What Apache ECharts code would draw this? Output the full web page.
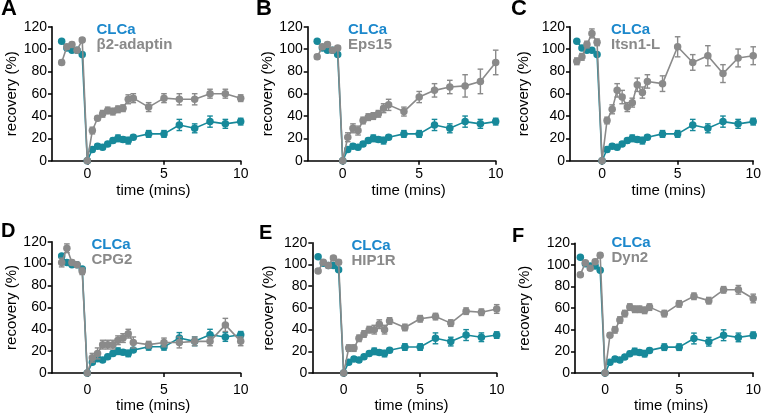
<!DOCTYPE html>
<html><head><meta charset="utf-8">
<script src="https://cdn.jsdelivr.net/npm/echarts@6/dist/echarts.min.js"></script>
<style>html,body{margin:0;padding:0;background:#fff}#c{width:764px;height:414px}</style>
</head><body><div id="c"></div>
<script>
// ---- data ----
const time = [-1.67,-1.33,-1,-0.67,-0.33,0,0.33,0.67,1,1.33,1.67,2,2.33,2.67,3,4,5,6,7,8,9,10];
const xTicks = [0,5,10];
const refName = 'CLCa';
const clca    = [107,101,99,99,95,0,10,13,12,15,18,20,19,18,21,24,24,32,29,35,33,35];
const clcaErr = [1,1,1,1,1,0,2,2,2,2,2,3,2,3,2,3,3,5,4,5,4,3];
const panelLetters = ['A','B','C','D','E','F'];
const proteinNames = ['β2-adaptin','Eps15','Itsn1-L','CPG2','HIP1R','Dyn2'];
const b2      = [88,102,104,99,108,0,27,38,42,45,44,46,47,55,56,48,56,55,55,60,60,56];
const b2Err   = [2,2,2,2,2,0,3,2,3,3,3,3,3,4,4,4,4,5,5,4,4,3];
const eps15   = [93,102,104,99,101,0,21,29,27,36,39,40,42,47,50,44,57,63,66,67,71,88];
const eps15Err= [2,2,2,2,2,0,4,4,4,3,3,3,3,4,5,4,5,6,6,10,11,11];
const itsn    = [89,93,104,114,106,0,36,46,63,57,48,52,68,61,71,69,102,88,94,78,92,94];
const itsnErr = [3,3,3,4,3,0,3,4,6,6,4,4,6,5,6,7,9,7,9,8,8,8];
const cpg2    = [101,114,101,99,93,0,14,18,26,26,26,30,32,36,28,26,28,28,29,29,44,29];
const cpg2Err = [4,4,2,2,3,0,4,5,4,4,4,4,4,4,5,3,4,5,4,4,6,4];
const hip1r   = [94,102,99,106,102,0,23,23,32,36,40,40,45,40,48,42,50,52,46,57,56,59];
const hip1rErr= [2,2,2,2,2,0,3,3,3,3,3,4,4,4,3,3,3,3,3,3,3,4];
const dyn2    = [91,102,97,103,109,0,35,40,49,55,61,59,59,58,61,55,64,71,67,77,77,69];
const dyn2Err = [2,2,2,2,2,0,2,3,3,3,3,3,3,3,3,3,3,3,3,3,4,4];
const proteinValues = [b2,eps15,itsn,cpg2,hip1r,dyn2];
const proteinErrors = [b2Err,eps15Err,itsnErr,cpg2Err,hip1rErr,dyn2Err];

// ---- layout ----
const layout = [
  {left:52,   top:26.7,  width:188.7, height:134,   xmin:-2.3,  lm:6,  ng:22.5, yng:32,   lg:[96.5,23],  lt:[1,-3,22]},
  {left:307.7,top:26.7,  width:188,   height:134,   xmin:-2.29, lm:6,  ng:22.5, yng:31.5, lg:[348,23],   lt:[256,-3,22]},
  {left:570,  top:26.7,  width:186.7, height:134,   xmin:-2.12, lm:6,  ng:22.5, yng:38.5, lg:[611,23],   lt:[511,-3,22]},
  {left:51.7, top:241.7, width:189,   height:133.3, xmin:-2.32, lm:10, ng:20.5, yng:32.5, lg:[91.5,238], lt:[1,220,20]},
  {left:312.3,top:242.7, width:184.4, height:132.3, xmin:-2.05, lm:10, ng:20.5, yng:35.5, lg:[351.5,239],lt:[259,222,20]},
  {left:575,  top:243.3, width:182.3, height:133.4, xmin:-2.03, lm:10, ng:20.5, yng:43,   lg:[611.5,236],lt:[512,225,20]}
];
const FONT = '"Liberation Sans", Arial, Helvetica, sans-serif';
const TEAL = '#17899a', GRAY = '#8a8a8a', LABELBLUE = '#1c88cc';

function errData(vals, errs){ return time.map((t,i)=>[t, vals[i], errs[i]]); }
function lineData(vals){ return time.map((t,i)=>[t, vals[i]]); }
function errRender(color){
  return function(params, api){
    const x = api.value(0), y = api.value(1), e = api.value(2);
    if (!e) return null;
    const p1 = api.coord([x, y+e]), p2 = api.coord([x, y-e]);
    const hw = 2.8, st = {stroke: color, lineWidth: 1.4};
    return {type:'group', children:[
      {type:'line', shape:{x1:p1[0],y1:p1[1],x2:p2[0],y2:p2[1]}, style:st},
      {type:'line', shape:{x1:p1[0]-hw,y1:p1[1],x2:p1[0]+hw,y2:p1[1]}, style:st},
      {type:'line', shape:{x1:p2[0]-hw,y1:p2[1],x2:p2[0]+hw,y2:p2[1]}, style:st}
    ]};
  };
}

const grid=[], xAxis=[], yAxis=[], series=[], title=[];
layout.forEach((L,i)=>{
  grid.push({left:L.left, top:L.top, width:L.width, height:L.height, containLabel:false});
  xAxis.push({type:'value', gridIndex:i, min:L.xmin, max:10,
    name:'time (mins)', nameLocation:'middle', nameGap:L.ng,
    nameTextStyle:{fontFamily:FONT, fontSize:15, color:'#000', padding:[0,0,0,14]},
    axisLine:{show:true, onZero:false, lineStyle:{color:'#000', width:1.5}},
    axisTick:{show:true, length:4, customValues:xTicks, lineStyle:{color:'#000', width:1.5}},
    axisLabel:{customValues:xTicks, margin:L.lm, fontFamily:FONT, fontSize:14, color:'#000'},
    splitLine:{show:false}});
  yAxis.push({type:'value', gridIndex:i, min:0, max:120, interval:20, position:'left',
    name:'recovery (%)', nameLocation:'middle', nameGap:L.yng, nameRotate:90,
    nameTextStyle:{fontFamily:FONT, fontSize:15, color:'#000'},
    axisLine:{show:true, onZero:false, lineStyle:{color:'#000', width:1.6}},
    axisTick:{show:true, length:4, lineStyle:{color:'#000', width:1.5}},
    axisLabel:{margin:5, fontFamily:FONT, fontSize:14, color:'#000'},
    splitLine:{show:false}});
  series.push({type:'custom', xAxisIndex:i, yAxisIndex:i, renderItem:errRender(TEAL), data:errData(clca, clcaErr), z:1, silent:true});
  series.push({type:'line', name:refName, xAxisIndex:i, yAxisIndex:i, data:lineData(clca), symbol:'circle', symbolSize:7.5,
    lineStyle:{color:TEAL, width:1.6}, itemStyle:{color:TEAL}, z:2, animation:false});
  series.push({type:'custom', xAxisIndex:i, yAxisIndex:i, renderItem:errRender(GRAY), data:errData(proteinValues[i], proteinErrors[i]), z:3, silent:true});
  series.push({type:'line', name:proteinNames[i], xAxisIndex:i, yAxisIndex:i, data:lineData(proteinValues[i]), symbol:'circle', symbolSize:7.5,
    lineStyle:{color:GRAY, width:1.6}, itemStyle:{color:GRAY}, z:4, animation:false});
  title.push({text:refName, subtext:proteinNames[i], left:L.lg[0], top:L.lg[1], padding:0, itemGap:0,
    textStyle:{fontFamily:FONT, fontSize:15, fontWeight:'bold', color:LABELBLUE, lineHeight:14},
    subtextStyle:{fontFamily:FONT, fontSize:15, fontWeight:'bold', color:GRAY, lineHeight:14}});
  title.push({text:panelLetters[i], left:L.lt[0], top:L.lt[1], padding:0,
    textStyle:{fontFamily:FONT, fontSize:L.lt[2], fontWeight:'bold', color:'#000', lineHeight:L.lt[2]+2}});
});

const chart = echarts.init(document.getElementById('c'), null, {renderer:'canvas'});
chart.setOption({animation:false, backgroundColor:'#fff', title, grid, xAxis, yAxis, series});
</script></body></html>
